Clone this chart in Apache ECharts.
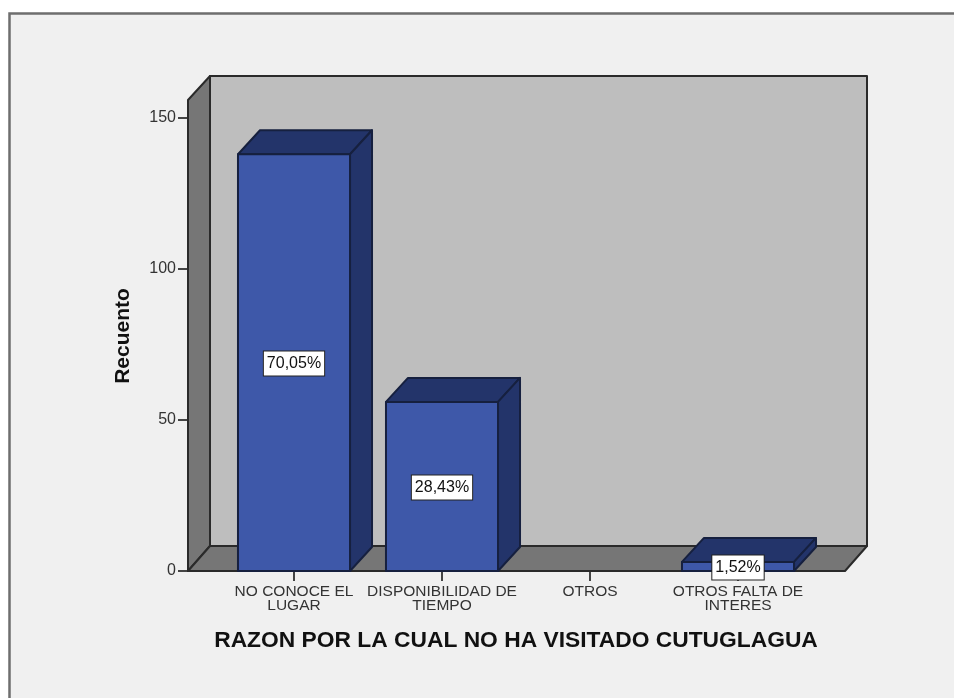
<!DOCTYPE html>
<html>
<head>
<meta charset="utf-8">
<style>html,body{margin:0;padding:0;background:#fff;}#c{width:954px;height:698px;}</style>
<script src="https://cdn.jsdelivr.net/npm/echarts@6/dist/echarts.min.js"></script>
</head>
<body>
<div id="c"></div>
<script>
var categories = ['NO CONOCE EL\nLUGAR', 'DISPONIBILIDAD DE\nTIEMPO', 'OTROS', 'OTROS FALTA DE\nINTERES'];
var counts = [138, 56, 0, 3];
var percentLabels = ['70,05%', '28,43%', '', '1,52%'];
var yTicks = [0, 50, 100, 150];

var FONT = '"Liberation Sans", Arial, sans-serif';
var DX = 22, DY = 24;
var chart = echarts.init(document.getElementById('c'), null, {renderer: 'canvas'});

function poly(points, fill, stroke, lw) {
  return {type: 'polygon', shape: {points: points},
    style: {fill: fill, stroke: stroke, lineWidth: lw, lineJoin: 'round'}};
}

function renderFrame(params) {
  var g = params.coordSys;
  var l = g.x - 32, r = g.x + g.width + 33, b = g.y + g.height, t = g.y - 18;
  return {type: 'group', silent: true, children: [
    poly([[l + DX, t - DY], [r + DX, t - DY], [r + DX, b - DY - 1], [l + DX, b - DY - 1]], '#bebebe', '#2a2a2a', 2),
    poly([[l, t], [l + DX, t - DY], [l + DX, b - DY - 1], [l, b]], '#767676', '#2a2a2a', 2),
    poly([[l, b], [l + DX, b - DY - 1], [r + DX, b - DY - 1], [r, b]], '#767676', '#2a2a2a', 2)
  ]};
}

function renderBar(params, api) {
  var v = api.value(1);
  if (!v) return {type: 'group', children: []};
  var c = api.coord([api.value(0), v]);
  var base = api.coord([api.value(0), 0]);
  var w = api.size([1, 0])[0] * 0.757;
  var x0 = c[0] - w / 2, x1 = c[0] + w / 2, yt = c[1], yb = base[1];
  var edge = '#16203f';
  return {type: 'group', silent: true, children: [
    poly([[x0, yt], [x0 + DX, yt - DY], [x1 + DX, yt - DY], [x1, yt]], '#23346a', edge, 2),
    poly([[x1, yt], [x1 + DX, yt - DY], [x1 + DX, yb - DY], [x1, yb]], '#23346a', edge, 2),
    poly([[x0, yt], [x1, yt], [x1, yb], [x0, yb]], '#3e58a9', edge, 2)
  ]};
}

function renderLabel(params, api) {
  var i = api.value(0), v = api.value(1);
  if (!v) return {type: 'group', children: []};
  var c = api.coord([i, v / 2]);
  return {type: 'text', silent: true, x: c[0], y: c[1] + 1, z2: 10, style: {
    text: percentLabels[i], x: 0, y: 0, align: 'center', verticalAlign: 'middle',
    font: '16px ' + FONT, fill: '#111',
    backgroundColor: '#fff', borderColor: '#222', borderWidth: 1,
    padding: [4, 3, 4, 3]
  }};
}

chart.setOption({
  animation: false,
  backgroundColor: '#fff',
  graphic: [{
    type: 'rect', silent: true, z: -10,
    shape: {x: 9.5, y: 13.5, width: 960, height: 700},
    style: {fill: '#f0f0f0', stroke: '#6e6e6e', lineWidth: 2.5}
  }],
  grid: {left: 220, top: 118, width: 592, height: 453, containLabel: false},
  xAxis: {
    type: 'category', data: categories,
    axisLine: {show: false},
    axisTick: {show: true, alignWithLabel: true, length: 10, lineStyle: {color: '#444', width: 2}},
    axisLabel: {interval: 0, color: '#333', fontFamily: FONT, fontSize: 15.5, lineHeight: 14, margin: 14},
    name: 'RAZON POR LA CUAL NO HA VISITADO CUTUGLAGUA',
    nameLocation: 'middle', nameGap: 58,
    nameTextStyle: {fontFamily: FONT, fontSize: 22.8, fontWeight: 'bold', color: '#111'}
  },
  yAxis: {
    type: 'value', min: 0, max: 150, interval: 50, offset: 32,
    splitLine: {show: false},
    axisLine: {show: false},
    axisTick: {show: true, length: 10, lineStyle: {color: '#444', width: 2}},
    axisLabel: {color: '#333', fontFamily: FONT, fontSize: 16, margin: 12, padding: [2, 0, 0, 0],
      customValues: yTicks},
    name: 'Recuento', nameLocation: 'middle', nameGap: 54, nameRotate: 90,
    nameTextStyle: {fontFamily: FONT, fontSize: 21, fontWeight: 'bold', color: '#111', padding: [0, 0, 0, 17]}
  },
  series: [
    {type: 'custom', z: 1, data: [[0, 0]], renderItem: renderFrame, clip: false, silent: true},
    {type: 'custom', z: 2, data: counts.map(function (v, i) { return [i, v]; }), renderItem: renderBar,
      encode: {x: 0, y: 1}, clip: false, silent: true},
    {type: 'custom', z: 3, data: counts.map(function (v, i) { return [i, v]; }), renderItem: renderLabel,
      encode: {x: 0, y: 1}, clip: false, silent: true}
  ]
});
</script>
</body>
</html>
